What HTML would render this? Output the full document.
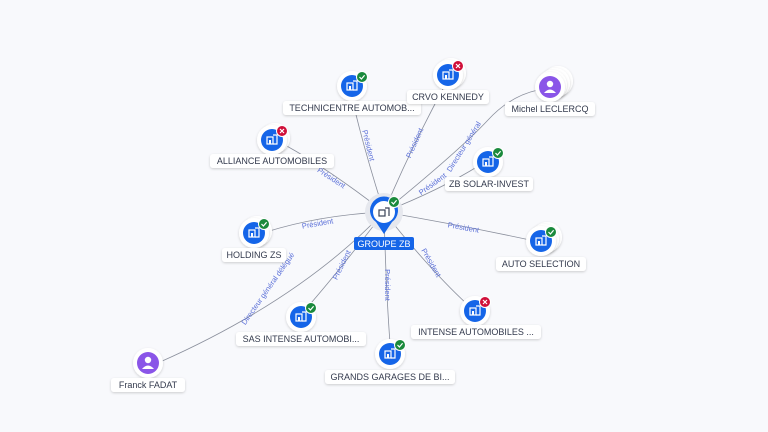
<!DOCTYPE html>
<html><head><meta charset="utf-8"><style>
html,body{margin:0;padding:0;background:#f8f9fc;}
svg{display:block;font-family:"Liberation Sans",sans-serif;}
.lb{font-size:9px;fill:#333a4d;}
.el{font-size:7.5px;fill:#5a6fd8;}
</style></head><body>
<svg width="768" height="432" viewBox="0 0 768 432" xmlns="http://www.w3.org/2000/svg">
<defs>
<filter id="sh" x="-50%" y="-50%" width="200%" height="200%"><feDropShadow dx="0" dy="1" stdDeviation="1.2" flood-color="#000" flood-opacity="0.18"/></filter>
<g id="bld"><rect x="-5" y="-3" width="6" height="7" fill="none" stroke="#fff" stroke-width="1.2"/><path d="M1 -5 L5 -5 L5 4 L1 4" fill="none" stroke="#fff" stroke-width="1.2"/><rect x="-3" y="0" width="2" height="4" fill="#fff"/></g>
<g id="ok"><circle r="5.5" fill="#1a8a3c" stroke="#fff" stroke-width="1"/><path d="M-2.5 0 L-0.6 2 L2.6 -1.8" stroke="#fff" stroke-width="1.2" fill="none"/></g>
<g id="ko"><circle r="5.5" fill="#d0103a" stroke="#fff" stroke-width="1"/><path d="M-2 -2 L2 2 M2 -2 L-2 2" stroke="#fff" stroke-width="1.2"/></g>
</defs>
<g fill="none" stroke="#8a8f9c" stroke-width="0.8">
<path d="M384 212 Q364 150 352 98"/>
<path d="M384 212 Q410 150 444 87"/>
<path d="M384 212 Q460 150 488 120 Q510 96 538 90"/>
<path d="M384 212 Q440 190 480 165"/>
<path d="M384 212 Q330 170 285 145"/>
<path d="M384 212 Q320 215 266 232"/>
<path d="M384 212 Q460 225 530 240"/>
<path d="M384 212 Q340 270 305 310"/>
<path d="M384 212 Q430 270 468 305"/>
<path d="M384 212 Q386 290 390 343"/>
<path d="M384 212 Q300 300 160 362"/>
</g>
<g class="el">
<text transform="translate(366,146) rotate(76)" text-anchor="middle">Président</text>
<text transform="translate(417,144) rotate(-66)" text-anchor="middle">Président</text>
<text transform="translate(466,148) rotate(-58)" text-anchor="middle">Directeur général</text>
<text transform="translate(434,186) rotate(-36)" text-anchor="middle">Président</text>
<text transform="translate(330,180) rotate(33)" text-anchor="middle">Président</text>
<text transform="translate(318,226) rotate(-10)" text-anchor="middle">Président</text>
<text transform="translate(463,230) rotate(10)" text-anchor="middle">Président</text>
<text transform="translate(344,266) rotate(-64)" text-anchor="middle">Président</text>
<text transform="translate(429,264) rotate(60)" text-anchor="middle">Président</text>
<text transform="translate(385,285) rotate(90)" text-anchor="middle">Président</text>
<text transform="translate(270,290) rotate(-55)" text-anchor="middle">Directeur général délégué</text>
</g>
<circle cx="384" cy="212" r="19" fill="#e6e8ee"/>
<path d="M384 234 L376 222 A14 14 0 1 1 392 222 Z" fill="#1565e8"/>
<circle cx="384" cy="212" r="11" fill="#fff"/>
<g transform="translate(384,212)"><rect x="-5" y="-2" width="6" height="6" fill="none" stroke="#3a4256" stroke-width="1.2"/><path d="M1 -4 L5 -4 L5 4" fill="none" stroke="#3a4256" stroke-width="1.2"/></g>
<use href="#ok" x="394" y="202"/>
<rect x="354" y="237" width="60" height="13" rx="2" fill="#1565e8"/>
<text x="384" y="247" text-anchor="middle" font-size="9" fill="#fff">GROUPE ZB</text>

<g>
<g transform="translate(352,86)"><circle r="15" fill="#fff" filter="url(#sh)"/><circle r="11" fill="#1565e8"/><use href="#bld"/><use href="#ok" x="10" y="-9"/></g>
<g transform="translate(448,75)"><circle cx="3" cy="-2" r="15" fill="#fff" filter="url(#sh)"/><circle r="15" fill="#fff" filter="url(#sh)"/><circle r="11" fill="#1565e8"/><use href="#bld"/><use href="#ko" x="10" y="-9"/></g>
<g transform="translate(272,140)"><circle cx="3" cy="-2" r="15" fill="#fff" filter="url(#sh)"/><circle r="15" fill="#fff" filter="url(#sh)"/><circle r="11" fill="#1565e8"/><use href="#bld"/><use href="#ko" x="10" y="-9"/></g>
<g transform="translate(488,162)"><circle r="15" fill="#fff" filter="url(#sh)"/><circle r="11" fill="#1565e8"/><use href="#bld"/><use href="#ok" x="10" y="-9"/></g>
<g transform="translate(254,233)"><circle cx="3" cy="-2" r="15" fill="#fff" filter="url(#sh)"/><circle r="15" fill="#fff" filter="url(#sh)"/><circle r="11" fill="#1565e8"/><use href="#bld"/><use href="#ok" x="10" y="-9"/></g>
<g transform="translate(541,241)"><circle cx="6" cy="-4" r="15" fill="#fff" filter="url(#sh)"/><circle cx="3" cy="-2" r="15" fill="#fff" filter="url(#sh)"/><circle r="15" fill="#fff" filter="url(#sh)"/><circle r="11" fill="#1565e8"/><use href="#bld"/><use href="#ok" x="10" y="-9"/></g>
<g transform="translate(301,317)"><circle r="15" fill="#fff" filter="url(#sh)"/><circle r="11" fill="#1565e8"/><use href="#bld"/><use href="#ok" x="10" y="-9"/></g>
<g transform="translate(475,311)"><circle r="15" fill="#fff" filter="url(#sh)"/><circle r="11" fill="#1565e8"/><use href="#bld"/><use href="#ko" x="10" y="-9"/></g>
<g transform="translate(390,354)"><circle r="15" fill="#fff" filter="url(#sh)"/><circle r="11" fill="#1565e8"/><use href="#bld"/><use href="#ok" x="10" y="-9"/></g>
<g transform="translate(550,87)"><circle cx="8" cy="-6" r="15" fill="#fff" filter="url(#sh)"/><circle cx="5" cy="-4" r="15" fill="#fff" filter="url(#sh)"/><circle cx="2" cy="-2" r="15" fill="#fff" filter="url(#sh)"/><circle r="15" fill="#fff" filter="url(#sh)"/><circle r="11" fill="#8a55e8"/><circle cy="-3" r="3.2" fill="#fff"/><path d="M-6 6 Q0 -1 6 6 Z" fill="#fff"/></g>
<g transform="translate(148,363)"><circle r="15" fill="#fff" filter="url(#sh)"/><circle r="11" fill="#8a55e8"/><circle cy="-3" r="3.2" fill="#fff"/><path d="M-6 6 Q0 -1 6 6 Z" fill="#fff"/></g>
</g>
<g>
<rect x="283" y="101" width="138" height="14" rx="3" fill="#fff" filter="url(#sh)"/><text class="lb" x="352" y="111" text-anchor="middle">TECHNICENTRE AUTOMOB...</text>
<rect x="407" y="90" width="82" height="14" rx="3" fill="#fff" filter="url(#sh)"/><text class="lb" x="448" y="100" text-anchor="middle">CRVO KENNEDY</text>
<rect x="505" y="102" width="90" height="14" rx="3" fill="#fff" filter="url(#sh)"/><text class="lb" x="550" y="112" text-anchor="middle">Michel LECLERCQ</text>
<rect x="210" y="154" width="124" height="14" rx="3" fill="#fff" filter="url(#sh)"/><text class="lb" x="272" y="164" text-anchor="middle">ALLIANCE AUTOMOBILES</text>
<rect x="445" y="177" width="88" height="14" rx="3" fill="#fff" filter="url(#sh)"/><text class="lb" x="489" y="187" text-anchor="middle">ZB SOLAR-INVEST</text>
<rect x="222" y="248" width="64" height="14" rx="3" fill="#fff" filter="url(#sh)"/><text class="lb" x="254" y="258" text-anchor="middle">HOLDING ZS</text>
<rect x="496" y="257" width="90" height="14" rx="3" fill="#fff" filter="url(#sh)"/><text class="lb" x="541" y="267" text-anchor="middle">AUTO SELECTION</text>
<rect x="236" y="332" width="130" height="14" rx="3" fill="#fff" filter="url(#sh)"/><text class="lb" x="301" y="342" text-anchor="middle">SAS INTENSE AUTOMOBI...</text>
<rect x="411" y="325" width="130" height="14" rx="3" fill="#fff" filter="url(#sh)"/><text class="lb" x="476" y="335" text-anchor="middle">INTENSE AUTOMOBILES ...</text>
<rect x="325" y="370" width="130" height="14" rx="3" fill="#fff" filter="url(#sh)"/><text class="lb" x="390" y="380" text-anchor="middle">GRANDS GARAGES DE BI...</text>
<rect x="111" y="378" width="74" height="14" rx="3" fill="#fff" filter="url(#sh)"/><text class="lb" x="148" y="388" text-anchor="middle">Franck FADAT</text>
</g>
</svg>
</body></html>
